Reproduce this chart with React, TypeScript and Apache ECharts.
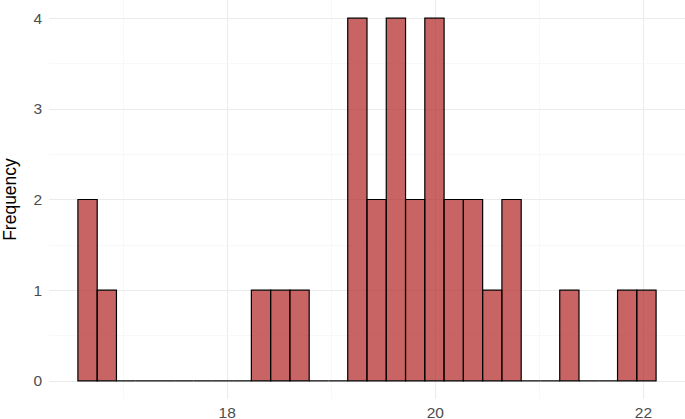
import React, { useEffect, useRef } from "react";
import * as echarts from "echarts";

// Histogram: 30 bins
const binStart = 16.565;
const binWidth = 0.1852;
const binCounts = [2, 1, 0, 0, 0, 0, 0, 0, 0, 1, 1, 1, 0, 0, 4, 2, 4, 2, 4, 2, 2, 1, 2, 0, 0, 1, 0, 0, 1, 1];
const xMajorTicks = [18, 20, 22];
const xMinorTicks = [17, 19, 21];
const yMajorTicks = [0, 1, 2, 3, 4];
const yMinorTicks = [0.5, 1.5, 2.5, 3.5];
const yTitle = "Frequency";

export default function App() {
  const ref = useRef<HTMLDivElement>(null);
  useEffect(() => {
    if (!ref.current) return;
    const chart = echarts.init(ref.current, null, { renderer: "svg" });
    const nBins = binCounts.length;
    const dataMin = binStart;
    const dataMax = binStart + nBins * binWidth;
    const span = dataMax - dataMin;
    const xMin = dataMin - 0.05 * span;
    const xMax = dataMax + 0.05 * span;
    const yMaxData = Math.max(...binCounts);
    const yMin = -0.05 * yMaxData;
    const yMax = yMaxData * 1.05;

    const bins = binCounts.map((c, i) => [binStart + i * binWidth, binStart + (i + 1) * binWidth, c]);

    const font = "'Liberation Sans', Arial, sans-serif";
    const majorColor = "#EBEBEB";
    const minorColor = "#F3F3F3";

    const gridLines = [
      ...xMinorTicks.map((v) => ({ xAxis: v, lineStyle: { color: minorColor, width: 0.6, type: "solid" } })),
      ...xMajorTicks.map((v) => ({ xAxis: v, lineStyle: { color: majorColor, width: 1.1, type: "solid" } })),
      ...yMinorTicks.map((v) => ({ yAxis: v, lineStyle: { color: minorColor, width: 0.6, type: "solid" } })),
      ...yMajorTicks.map((v) => ({ yAxis: v, lineStyle: { color: majorColor, width: 1.1, type: "solid" } })),
    ];

    chart.setOption({
      animation: false,
      backgroundColor: "#FFFFFF",
      grid: { left: 49, right: 0, top: 0, bottom: 20, containLabel: false, outerBoundsMode: "none" },
      xAxis: {
        type: "value",
        min: xMin,
        max: xMax,
        axisLine: { show: false },
        axisTick: { show: false },
        splitLine: { show: false },
        axisLabel: {
          customValues: xMajorTicks,
          color: "#4D4D4D",
          fontSize: 15.5,
          fontFamily: font,
          margin: 6,
          lineHeight: 14,
          formatter: (v: number) => String(v),
        },
      },
      yAxis: {
        type: "value",
        min: yMin,
        max: yMax,
        name: yTitle,
        nameLocation: "middle",
        nameGap: 30,
        nameTextStyle: { color: "#000000", fontSize: 17.5, fontFamily: font, lineHeight: 18 },
        axisLine: { show: false },
        axisTick: { show: false },
        splitLine: { show: false },
        axisLabel: {
          customValues: yMajorTicks,
          color: "#4D4D4D",
          fontSize: 15.5,
          fontFamily: font,
          margin: 7,
          formatter: (v: number) => String(v),
        },
      },
      series: [
        {
          type: "line",
          data: [],
          silent: true,
          z: 0,
          markLine: {
            silent: true,
            symbol: "none",
            z: 0,
            label: { show: false },
            emphasis: { disabled: true },
            data: gridLines,
          },
        },
        {
          type: "custom",
          z: 3,
          data: bins,
          renderItem: (params: any, api: any) => {
            const x0 = api.value(0);
            const x1 = api.value(1);
            const c = api.value(2);
            const p0 = api.coord([x0, c]);
            const p1 = api.coord([x1, 0]);
            if (c === 0) {
              return {
                type: "line",
                shape: { x1: p0[0], y1: p1[1], x2: p1[0], y2: p1[1] },
                style: { stroke: "#000000", lineWidth: 1.2 },
              };
            }
            return {
              type: "rect",
              shape: { x: p0[0], y: p0[1], width: p1[0] - p0[0], height: p1[1] - p0[1] },
              style: { fill: "rgba(178,34,34,0.7)", stroke: "#000000", lineWidth: 1.2 },
            };
          },
        },
      ],
    });
    return () => chart.dispose();
  }, []);
  return (
    <div
      ref={ref}
      style={{ position: "fixed", left: 0, top: 0, width: 685, height: 419, background: "#fff" }}
    />
  );
}
